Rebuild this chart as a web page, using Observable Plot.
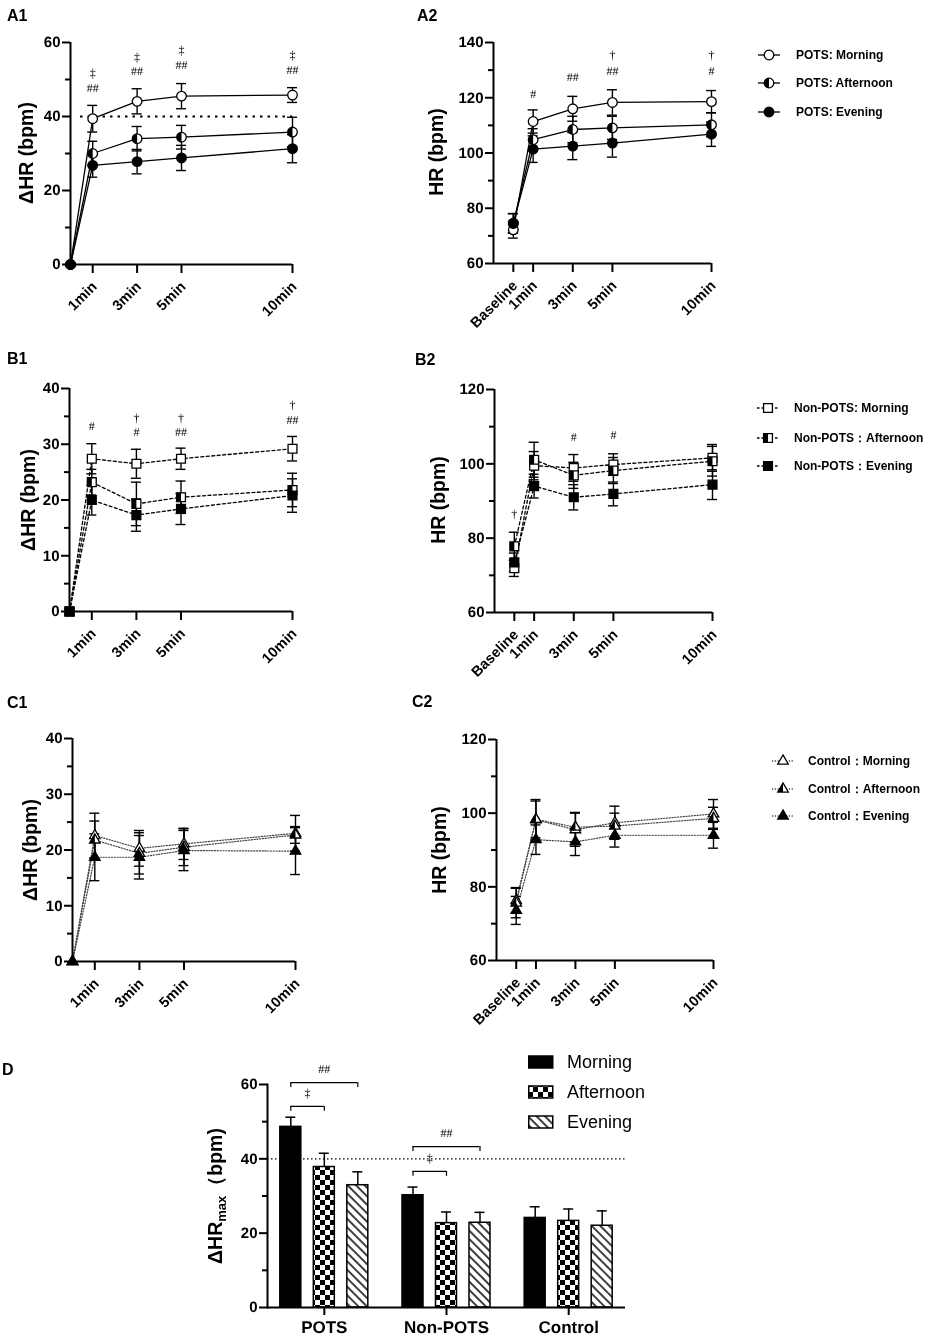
<!DOCTYPE html>
<html><head><meta charset="utf-8">
<script src="https://cdn.jsdelivr.net/npm/d3@7"></script>
<script src="https://cdn.jsdelivr.net/npm/@observablehq/plot@0.6"></script>
<style>
body{margin:0;background:#fff;}
#root{position:relative;width:936px;height:1339px;overflow:hidden;font-family:"Liberation Sans",Arial,sans-serif;color:#000;will-change:transform;}
svg text{text-rendering:geometricPrecision;}
.plab{position:absolute;font-weight:bold;font-size:16px;line-height:1;}
.ylab{position:absolute;font-weight:bold;font-size:19.5px;line-height:1;white-space:nowrap;transform:translate(-50%,-50%) rotate(-90deg);}
.leg{position:absolute;display:flex;align-items:center;font-weight:bold;font-size:12px;white-space:nowrap;height:16px;}
.legD{position:absolute;display:flex;align-items:center;font-size:18px;white-space:nowrap;height:20px;}
</style></head><body>
<svg width="0" height="0" style="position:absolute">
<defs>
<pattern id="checker" width="10" height="10" patternUnits="userSpaceOnUse">
<rect width="10" height="10" fill="white"/><rect width="5" height="5" fill="black"/><rect x="5" y="5" width="5" height="5" fill="black"/>
</pattern>
<pattern id="hatch" width="6" height="6" patternUnits="userSpaceOnUse" patternTransform="rotate(-45)">
<rect width="6" height="6" fill="white"/><line x1="3" y1="0" x2="3" y2="6" stroke="black" stroke-width="1.5"/>
</pattern>
</defs></svg>
<div id="root"></div>
<script>
// ---------- DATA ----------
const times = [0, 1, 3, 5, 10];
const sessions = ["Morning", "Afternoon", "Evening"];
const deltaTicks = [1, 3, 5, 10];
const deltaTickLabels = ["1min", "3min", "5min", "10min"];
const hrTicks = [0, 1, 3, 5, 10];
const hrTickLabels = ["Baseline", "1min", "3min", "5min", "10min"];

// A1: POTS ΔHR
const potsDeltaMorning = [0, 39.4, 44.1, 45.5, 45.8];
const potsDeltaMorningSE = [0, 3.6, 3.4, 3.4, 2.0];
const potsDeltaAfternoon = [0, 30.0, 34.0, 34.4, 35.8];
const potsDeltaAfternoonSE = [0, 3.3, 3.3, 3.2, 4.0];
const potsDeltaEvening = [0, 26.8, 27.8, 28.8, 31.3];
const potsDeltaEveningSE = [0, 3.2, 3.3, 3.4, 3.8];
const sigA1X = [1, 1, 3, 3, 5, 5, 10, 10];
const sigA1Y = [51.7, 47.7, 56.0, 52.2, 57.8, 54.0, 56.5, 52.6];
const sigA1Text = ["‡", "##", "‡", "##", "‡", "##", "‡", "##"];

// A2: POTS HR
const potsHRMorning = [72.2, 111.4, 116.0, 118.3, 118.6];
const potsHRMorningSE = [3.0, 4.2, 4.5, 4.6, 4.0];
const potsHRAfternoon = [74.5, 104.8, 108.5, 109.1, 110.2];
const potsHRAfternoonSE = [3.5, 4.0, 4.8, 4.2, 4.3];
const potsHREvening = [74.6, 101.4, 102.5, 103.6, 106.8];
const potsHREveningSE = [3.5, 4.8, 4.9, 5.1, 4.4];
const sigA2X = [1, 3, 5, 5, 10, 10];
const sigA2Y = [121.4, 127.4, 135.3, 129.5, 135.3, 129.5];
const sigA2Text = ["#", "##", "†", "##", "†", "#"];

// B1: Non-POTS ΔHR
const nonDeltaMorning = [0, 27.4, 26.5, 27.4, 29.2];
const nonDeltaMorningSE = [0, 2.7, 2.6, 1.9, 2.2];
const nonDeltaAfternoon = [0, 23.2, 19.3, 20.5, 21.8];
const nonDeltaAfternoonSE = [0, 2.3, 3.9, 2.9, 3.0];
const nonDeltaEvening = [0, 20.0, 17.3, 18.4, 20.8];
const nonDeltaEveningSE = [0, 2.7, 2.9, 2.8, 3.0];
const sigB1X = [1, 3, 3, 5, 5, 10, 10];
const sigB1Y = [33.2, 34.7, 32.2, 34.7, 32.2, 37.1, 34.4];
const sigB1Text = ["#", "†", "#", "†", "##", "†", "##"];

// B2: Non-POTS HR
const nonHRMorning = [71.9, 99.5, 98.9, 99.8, 101.6];
const nonHRMorningSE = [2.2, 3.8, 3.6, 2.9, 3.6];
const nonHRAfternoon = [77.8, 101.1, 96.9, 98.2, 100.7];
const nonHRAfternoonSE = [3.8, 4.7, 3.5, 3.5, 4.0];
const nonHREvening = [73.5, 94.0, 91.0, 91.9, 94.4];
const nonHREveningSE = [2.5, 3.2, 3.4, 3.2, 4.0];
const sigB2X = [0, 3, 5];
const sigB2Y = [86.5, 107.2, 107.6];
const sigB2Text = ["†", "#", "#"];

// C1: Control ΔHR
const ctrlDeltaMorning = [0, 22.6, 20.3, 21.1, 23.0];
const ctrlDeltaMorningSE = [0, 4.0, 3.2, 2.8, 3.2];
const ctrlDeltaAfternoon = [0, 21.8, 19.4, 20.5, 22.7];
const ctrlDeltaAfternoonSE = [0, 3.4, 3.7, 3.3, 1.5];
const ctrlDeltaEvening = [0, 18.7, 18.7, 19.9, 19.8];
const ctrlDeltaEveningSE = [0, 4.2, 3.9, 3.6, 4.2];

// C2: Control HR
const ctrlHRMorning = [76.3, 98.2, 95.5, 97.4, 99.8];
const ctrlHRMorningSE = [3.5, 5.5, 4.5, 4.5, 3.9];
const ctrlHRAfternoon = [75.6, 98.3, 96.2, 96.5, 98.6];
const ctrlHRAfternoonSE = [4.0, 5.0, 4.0, 3.5, 3.0];
const ctrlHREvening = [73.6, 92.8, 92.2, 94.0, 94.0];
const ctrlHREveningSE = [3.8, 4.0, 3.7, 3.2, 3.5];

// D: ΔHRmax
const groups = ["POTS", "Non-POTS", "Control"];
const dMaxMorning = [48.6, 30.2, 24.1];
const dMaxMorningSE = [2.6, 2.2, 3.0];
const dMaxAfternoon = [37.8, 22.7, 23.3];
const dMaxAfternoonSE = [3.7, 3.0, 3.2];
const dMaxEvening = [32.9, 22.8, 22.0];
const dMaxEveningSE = [3.6, 2.8, 4.0];
const bracketGroup = ["POTS", "POTS", "Non-POTS", "Non-POTS"];
const bracketTo = ["Evening", "Afternoon", "Evening", "Afternoon"];
const bracketY = [60.5, 54.1, 43.3, 36.6];
const bracketText = ["##", "‡", "##", "‡"];

// ---------- HELPERS ----------
const FONT = '"Liberation Sans", Arial, sans-serif';
const SERIF = '"Liberation Serif", "Times New Roman", serif';
const root = document.getElementById("root");

const halfCircle = {draw(ctx, size) { const r = Math.sqrt(size / Math.PI); ctx.moveTo(0, -r); ctx.arc(0, 0, r, -Math.PI / 2, Math.PI / 2, true); ctx.closePath(); }};
const halfSquare = {draw(ctx, size) { const w = Math.sqrt(size) / 2; ctx.moveTo(-w, -w); ctx.lineTo(0, -w); ctx.lineTo(0, w); ctx.lineTo(-w, w); ctx.closePath(); }};
const halfTriangle = {draw(ctx, size) { const y = -Math.sqrt(size / (Math.sqrt(3) * 3)); ctx.moveTo(0, y * 2); ctx.lineTo(Math.sqrt(3) * y, -y); ctx.lineTo(0, -y); ctx.closePath(); }};

function seriesData(means, ses) {
  return sessions.flatMap((s, k) => times.map((t, i) => ({t, s, v: means[k][i], se: ses[k][i]})));
}
function put(el, left, top) { el.style.position = "absolute"; el.style.left = left + "px"; el.style.top = top + "px"; root.appendChild(el); return el; }
function label(cls, text, left, top) { const d = document.createElement("div"); d.className = cls; d.innerHTML = text; d.style.left = left + "px"; d.style.top = top + "px"; root.appendChild(d); return d; }

function linePanel(c) {
  const data = seriesData(c.means, c.ses);
  const eb = data.filter(d => d.se > 0);
  const sig = (c.sigX || []).map((x, i) => ({x, y: c.sigY[i], text: c.sigText[i]}));
  const marks = [];
  if (c.ref) marks.push(Plot.ruleY([c.ref], {stroke: "black", strokeWidth: 2, strokeDasharray: "2.5,5", insetLeft: 10}));
  marks.push(
    Plot.line(data, {x: "t", y: "v", z: "s", stroke: c.lineColor, strokeWidth: c.lineWidth, strokeDasharray: c.dash}),
    Plot.ruleX(eb, {x: "t", y1: d => d.v - d.se, y2: d => d.v + d.se, stroke: "black", strokeWidth: 1.4}),
    Plot.ruleY(eb, {x1: "t", x2: "t", y: d => d.v + d.se, insetLeft: -5, insetRight: -5, stroke: "black", strokeWidth: 1.4}),
    Plot.ruleY(eb, {x1: "t", x2: "t", y: d => d.v - d.se, insetLeft: -5, insetRight: -5, stroke: "black", strokeWidth: 1.4}),
    ...sessions.map(s => Plot.dot(data.filter(d => d.s === s), {x: "t", y: "v", symbol: c.sym, r: c.r, fill: s === "Evening" ? "black" : "white", stroke: "black", strokeWidth: 1.3})),
    Plot.dot(data.filter(d => d.s === "Afternoon"), {x: "t", y: "v", symbol: c.half, r: c.r, fill: "black"}),
    Plot.text(sig, {x: "x", y: "y", text: "text", fontFamily: SERIF, fontSize: 12, fill: "black"}),
    Plot.ruleX([c.xDomain[0]], {stroke: "black", strokeWidth: 2}),
    Plot.ruleY([c.yDomain[0]], {stroke: "black", strokeWidth: 2}),
    Plot.axisY({ticks: c.yMajor, tickSize: 8, strokeWidth: 2, fontSize: 15, fontWeight: "bold", label: null, tickPadding: 2}),
    Plot.axisY({ticks: c.yMinor, tickSize: 5, strokeWidth: 2, tickFormat: () => "", label: null}),
    Plot.axisX({ticks: c.xTicks, tickFormat: () => "", tickSize: 9, strokeWidth: 2, label: null}),
    Plot.text(c.xTicks, {x: d => d, frameAnchor: "bottom", text: d => c.xLabels[c.xTicks.indexOf(d)], rotate: -45, textAnchor: "end",
      dx: 5, dy: 23, fontSize: 14.5, fontWeight: "bold", fill: "black"})
  );
  const svg = Plot.plot({
    width: c.w, height: c.h, marginLeft: c.mL, marginRight: c.mR, marginTop: c.mT, marginBottom: c.mB,
    x: {type: "linear", domain: c.xDomain}, y: {type: "linear", domain: c.yDomain},
    style: {fontFamily: FONT, background: "transparent", overflow: "visible", color: "black"},
    marks
  });
  put(svg, c.left, c.top);
  label("ylab", c.yLabel, c.ylx, c.yly);
  label("plab", c.name, c.plx, c.ply);
}

function legend(rows, cfg) {
  rows.forEach((r, i) => {
    const d = document.createElement("div");
    d.className = "leg";
    d.style.left = (cfg.cx - 12) + "px";
    d.style.top = (cfg.ys[i] - 8) + "px";
    const svg = d3.create("svg").attr("width", cfg.tx - (cfg.cx - 12)).attr("height", 16);
    svg.append("line").attr("x1", 1).attr("x2", 23).attr("y1", 8).attr("y2", 8)
      .attr("stroke", cfg.color).attr("stroke-width", 1.3).attr("stroke-dasharray", cfg.dash);
    const g = svg.append("g").attr("transform", "translate(12,8)");
    const size = cfg.r * cfg.r * Math.PI;
    g.append("path").attr("d", d3.symbol(cfg.sym, size)()).attr("fill", i === 2 ? "black" : "white").attr("stroke", "black").attr("stroke-width", 1.3);
    if (i === 1) g.append("path").attr("d", d3.symbol(cfg.half, size)()).attr("fill", "black");
    d.appendChild(svg.node());
    d.append(r);
    root.appendChild(d);
  });
}

// ---------- PANELS A, B, C ----------
linePanel({name: "A1", plx: 7, ply: 8, left: 0, top: 0, w: 320, h: 330, mL: 70, mR: 28, mT: 42, mB: 66,
  xDomain: [0, 10], yDomain: [0, 60], yMajor: [0, 20, 40, 60], yMinor: [10, 30, 50],
  xTicks: deltaTicks, xLabels: deltaTickLabels,
  means: [potsDeltaMorning, potsDeltaAfternoon, potsDeltaEvening], ses: [potsDeltaMorningSE, potsDeltaAfternoonSE, potsDeltaEveningSE],
  sym: d3.symbolCircle, half: halfCircle, r: 4.8, dash: null, lineColor: "black", lineWidth: 1.3, ref: 40,
  sigX: sigA1X, sigY: sigA1Y, sigText: sigA1Text, yLabel: "ΔHR (bpm)", ylx: 27, yly: 153});

linePanel({name: "A2", plx: 417, ply: 8, left: 400, top: 0, w: 330, h: 330, mL: 93, mR: 19, mT: 42, mB: 67,
  xDomain: [-1, 10], yDomain: [60, 140], yMajor: [60, 80, 100, 120, 140], yMinor: [70, 90, 110, 130],
  xTicks: hrTicks, xLabels: hrTickLabels,
  means: [potsHRMorning, potsHRAfternoon, potsHREvening], ses: [potsHRMorningSE, potsHRAfternoonSE, potsHREveningSE],
  sym: d3.symbolCircle, half: halfCircle, r: 4.8, dash: null, lineColor: "black", lineWidth: 1.3,
  sigX: sigA2X, sigY: sigA2Y, sigText: sigA2Text, yLabel: "HR (bpm)", ylx: 437, yly: 152});

linePanel({name: "B1", plx: 7, ply: 351, left: 0, top: 340, w: 320, h: 330, mL: 69, mR: 28, mT: 48, mB: 59,
  xDomain: [0, 10], yDomain: [0, 40], yMajor: [0, 10, 20, 30, 40], yMinor: [5, 15, 25, 35],
  xTicks: deltaTicks, xLabels: deltaTickLabels,
  means: [nonDeltaMorning, nonDeltaAfternoon, nonDeltaEvening], ses: [nonDeltaMorningSE, nonDeltaAfternoonSE, nonDeltaEveningSE],
  sym: d3.symbolSquare, half: halfSquare, r: 5, dash: "3,2.5", lineColor: "black", lineWidth: 1.3,
  sigX: sigB1X, sigY: sigB1Y, sigText: sigB1Text, yLabel: "ΔHR (bpm)", ylx: 29, yly: 500});

linePanel({name: "B2", plx: 415, ply: 352, left: 400, top: 340, w: 330, h: 330, mL: 94, mR: 18, mT: 49, mB: 58,
  xDomain: [-1, 10], yDomain: [60, 120], yMajor: [60, 80, 100, 120], yMinor: [70, 90, 110],
  xTicks: hrTicks, xLabels: hrTickLabels,
  means: [nonHRMorning, nonHRAfternoon, nonHREvening], ses: [nonHRMorningSE, nonHRAfternoonSE, nonHREveningSE],
  sym: d3.symbolSquare, half: halfSquare, r: 5, dash: "3,2.5", lineColor: "black", lineWidth: 1.3,
  sigX: sigB2X, sigY: sigB2Y, sigText: sigB2Text, yLabel: "HR (bpm)", ylx: 439, yly: 500});

linePanel({name: "C1", plx: 7, ply: 695, left: 0, top: 680, w: 320, h: 330, mL: 72, mR: 25, mT: 58, mB: 49,
  xDomain: [0, 10], yDomain: [0, 40], yMajor: [0, 10, 20, 30, 40], yMinor: [5, 15, 25, 35],
  xTicks: deltaTicks, xLabels: deltaTickLabels,
  means: [ctrlDeltaMorning, ctrlDeltaAfternoon, ctrlDeltaEvening], ses: [ctrlDeltaMorningSE, ctrlDeltaAfternoonSE, ctrlDeltaEveningSE],
  sym: d3.symbolTriangle, half: halfTriangle, r: 3.9, dash: "1.2,1.6", lineColor: "#444", lineWidth: 1.2,
  yLabel: "ΔHR (bpm)", ylx: 31, yly: 850});

linePanel({name: "C2", plx: 412, ply: 694, left: 400, top: 680, w: 330, h: 330, mL: 96, mR: 17, mT: 59, mB: 50,
  xDomain: [-1, 10], yDomain: [60, 120], yMajor: [60, 80, 100, 120], yMinor: [70, 90, 110],
  xTicks: hrTicks, xLabels: hrTickLabels,
  means: [ctrlHRMorning, ctrlHRAfternoon, ctrlHREvening], ses: [ctrlHRMorningSE, ctrlHRAfternoonSE, ctrlHREveningSE],
  sym: d3.symbolTriangle, half: halfTriangle, r: 3.9, dash: "1.2,1.6", lineColor: "#444", lineWidth: 1.2,
  yLabel: "HR (bpm)", ylx: 440, yly: 850});

legend(["POTS: Morning", "POTS: Afternoon", "POTS: Evening"],
  {cx: 769, tx: 796, ys: [55, 83, 112], sym: d3.symbolCircle, half: halfCircle, r: 4.8, dash: null, color: "black"});
legend(["Non-POTS: Morning", "Non-POTS：Afternoon", "Non-POTS：Evening"],
  {cx: 768, tx: 794, ys: [408, 438, 466], sym: d3.symbolSquare, half: halfSquare, r: 5, dash: "2.5,2", color: "black"});
legend(["Control：Morning", "Control：Afternoon", "Control：Evening"],
  {cx: 783, tx: 808, ys: [761, 789, 816], sym: d3.symbolTriangle, half: halfTriangle, r: 3.9, dash: "1.2,1.6", color: "#444"});

// ---------- PANEL D ----------
(function () {
  const dMeans = [dMaxMorning, dMaxAfternoon, dMaxEvening];
  const dSEs = [dMaxMorningSE, dMaxAfternoonSE, dMaxEveningSE];
  const dData = sessions.flatMap((s, k) => groups.map((g, i) => ({g, s, v: dMeans[k][i], se: dSEs[k][i]})));
  const W = 460, H = 309, mL = 87, mR = 15, mT = 54, mB = 32;
  const pIn = 0.15, pOut = 0.04;
  const bw = d3.scaleBand(groups, [0, W - mL - mR]).paddingInner(pIn).paddingOuter(pOut).bandwidth();
  const off = {Morning: -33.5, Afternoon: 0, Evening: 33.5};
  const fills = {Morning: "black", Afternoon: "url(#checker)", Evening: "url(#hatch)"};
  const barW = 21, capW = 10;
  const marks = [Plot.ruleY([40], {stroke: "black", strokeWidth: 1.2, strokeDasharray: "1.5,2.5"})];
  for (const s of sessions) {
    const ds = dData.filter(d => d.s === s);
    marks.push(
      Plot.ruleX(ds, {x: "g", y1: "v", y2: d => d.v + d.se, dx: off[s], stroke: "black", strokeWidth: 1.5}),
      Plot.tickY(ds, {x: "g", y: d => d.v + d.se, dx: off[s], insetLeft: (bw - capW) / 2, insetRight: (bw - capW) / 2, stroke: "black", strokeWidth: 1.5}),
      Plot.barY(ds, {x: "g", y: "v", dx: off[s], insetLeft: (bw - barW) / 2, insetRight: (bw - barW) / 2, fill: fills[s], stroke: "black", strokeWidth: 1.5})
    );
  }
  const brackets = bracketGroup.map((g, i) => ({g, to: bracketTo[i], y: bracketY[i], text: bracketText[i]}));
  for (const to of ["Evening", "Afternoon"]) {
    const bs = brackets.filter(b => b.to === to);
    marks.push(
      Plot.tickY(bs, {x: "g", y: "y", insetLeft: bw / 2 + off.Morning, insetRight: bw / 2 - off[to], stroke: "black", strokeWidth: 1.2}),
      Plot.ruleX(bs, {x: "g", y1: "y", y2: d => d.y - 1.3, dx: off.Morning, stroke: "black", strokeWidth: 1.2}),
      Plot.ruleX(bs, {x: "g", y1: "y", y2: d => d.y - 1.3, dx: off[to], stroke: "black", strokeWidth: 1.2}),
      Plot.text(bs, {x: "g", y: "y", text: "text", dx: (off.Morning + off[to]) / 2, dy: -13, fontFamily: SERIF, fontSize: 12, fill: "black"})
    );
  }
  marks.push(
    Plot.ruleY([0], {stroke: "black", strokeWidth: 2}),
    Plot.frame({anchor: "left", stroke: "black", strokeWidth: 2}),
    Plot.axisY({ticks: [0, 20, 40, 60], tickSize: 8, strokeWidth: 2, fontSize: 15, fontWeight: "bold", label: null, tickPadding: 2}),
    Plot.axisY({ticks: [10, 30, 50], tickSize: 5, strokeWidth: 2, tickFormat: () => "", label: null}),
    Plot.axisX({tickSize: 8, strokeWidth: 2, fontSize: 17, fontWeight: "bold", label: null, tickPadding: 5})
  );
  const svg = Plot.plot({
    width: W, height: H, marginLeft: mL, marginRight: mR, marginTop: mT, marginBottom: mB,
    x: {type: "band", domain: groups, paddingInner: pIn, paddingOuter: pOut, round: false},
    y: {type: "linear", domain: [0, 60]},
    style: {fontFamily: FONT, background: "transparent", overflow: "visible", color: "black"},
    marks
  });
  put(svg, 180, 1030);
  label("ylab", "ΔHR<sub style=\"font-size:13px\">max</sub>（bpm)", 217, 1196);
  label("plab", "D", 2, 1062);
  const legFills = ["black", "url(#checker)", "url(#hatch)"];
  const legY = [1062, 1092, 1122];
  sessions.forEach((s, i) => {
    const d = document.createElement("div");
    d.className = "legD";
    d.style.left = "528px";
    d.style.top = (legY[i] - 10) + "px";
    const sv = d3.create("svg").attr("width", 39).attr("height", 20);
    sv.append("rect").attr("x", 0.75).attr("y", 4).attr("width", 24).attr("height", 12).attr("fill", legFills[i]).attr("stroke", "black").attr("stroke-width", 1.5);
    d.appendChild(sv.node());
    d.append(s);
    root.appendChild(d);
  });
})();
</script>
</body></html>
